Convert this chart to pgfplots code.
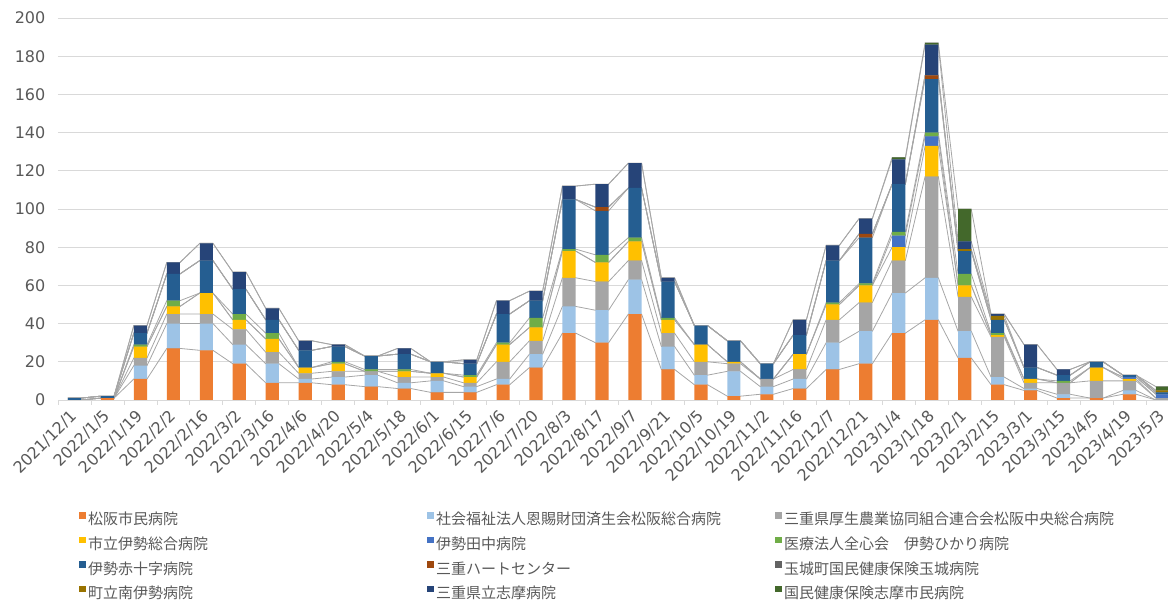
\documentclass[border=0pt]{standalone}
\usepackage{pgfplots}
\usepackage{pgfplotstable}
\pgfplotsset{compat=1.18}
\usepackage{fontspec}
\setmainfont{DejaVu Sans}
\newfontfamily\jp{Noto Sans CJK JP}
\definecolor{cA}{HTML}{ED7D31}
\definecolor{cB}{HTML}{9DC3E6}
\definecolor{cC}{HTML}{A5A5A5}
\definecolor{cD}{HTML}{FFC000}
\definecolor{cE}{HTML}{4472C4}
\definecolor{cF}{HTML}{70AD47}
\definecolor{cG}{HTML}{255E91}
\definecolor{cH}{HTML}{9E480E}
\definecolor{cI}{HTML}{636363}
\definecolor{cJ}{HTML}{997300}
\definecolor{cK}{HTML}{264478}
\definecolor{cL}{HTML}{43682B}
\definecolor{txt}{HTML}{595959}
\definecolor{gridc}{HTML}{D9D9D9}
\definecolor{sline}{HTML}{A6A6A6}

\pgfplotstableread{
x  s1 s2 s3 s4 s5 s6 s7 s8 s9 s10 s11 s12
0   0  0  0  0  0  0  1  0  0  0   0   0
1   1  0  0  0  0  0  1  0  0  0   0   0
2  11  7  4  6  0  1  6  0  0  0   4   0
3  27 13  5  4  0  3 14  0  0  0   6   0
4  26 14  5 11  0  0 17  0  0  0   9   0
5  19 10  8  5  0  3 13  0  0  0   9   0
6   9 10  6  7  0  3  7  0  0  0   6   0
7   9  2  3  3  0  0  9  0  0  0   5   0
8   8  4  3  4  0  1  8  0  0  0   1   0
9   7  6  2  0  0  1  7  0  0  0   0   0
10  6  3  3  3  0  1  8  0  0  0   3   0
11  4  6  2  2  0  0  6  0  0  0   0   0
12  4  3  2  3  0  1  6  0  0  0   2   0
13  8  3  9  9  0  1 15  0  0  0   7   0
14 17  7  7  7  0  5  9  0  0  0   5   0
15 35 14 15 14  0  1 26  0  0  0   7   0
16 30 17 15 10  0  4 23  2  0  0  12   0
17 45 18 10 10  0  2 26  0  0  0  13   0
18 16 12  7  7  0  1 19  0  0  0   2   0
19  8  5  7  9  0  0 10  0  0  0   0   0
20  2 13  4  1  0  0 11  0  0  0   0   0
21  3  4  4  0  0  0  8  0  0  0   0   0
22  6  5  5  8  0  0 10  0  0  0   8   0
23 16 14 12  8  0  1 22  0  0  0   8   0
24 19 17 15  9  0  1 24  2  0  0   8   0
25 35 21 17  7  6  2 25  0  0  0  13   1
26 42 22 53 16  5  2 28  2  0  0  16   1
27 22 14 18  6  0  6 12  0  0  1   4  17
28  8  4 21  1  0  1  7  0  0  2   1   0
29  5  1  3  2  0  0  6  0  0  0  12   0
30  1  2  6  0  0  1  3  0  0  0   3   0
31  1  0  9  7  0  0  3  0  0  0   0   0
32  3  2  5  1  1  0  1  0  0  0   0   0
33  0  0  1  0  2  0  1  0  0  1   0   2
}\data
\pgfplotstablevertcat{\dbl}{\data}
\pgfplotstablevertcat{\dbl}{\data}
\pgfplotstablesort[sort key=x]{\dblsorted}{\dbl}

\pgfplotsset{
  sq/.style={legend image code/.code={\fill[##1] (0pt,2.2pt) rectangle (6.5pt,8.7pt);}},
  sl/.style={sline, line width=0.8pt},
}

\begin{document}
\begin{tikzpicture}
\begin{axis}[
  at={(58pt,201pt)}, anchor=south west,
  width=1121pt, height=382pt, scale only axis,
  xmin=-0.5, xmax=33.5, ymin=0, ymax=200,
  ytick={0,20,...,200},
  ymajorgrids, grid style={draw=gridc, line width=0.8pt},
  xtick={0,...,33},
  xticklabels={2021/12/1,2022/1/5,2022/1/19,2022/2/2,2022/2/16,2022/3/2,2022/3/16,2022/4/6,2022/4/20,2022/5/4,2022/5/18,2022/6/1,2022/6/15,2022/7/6,2022/7/20,2022/8/3,2022/8/17,2022/9/7,2022/9/21,2022/10/5,2022/10/19,2022/11/2,2022/11/16,2022/12/7,2022/12/21,2023/1/4,2023/1/18,2023/2/1,2023/2/15,2023/3/1,2023/3/15,2023/4/5,2023/4/19,2023/5/3},
  minor xtick={-0.5,0.5,...,33.5},
  major tick length=0pt, minor tick length=5pt,
  tick align=outside, xtick pos=bottom, ytick pos=left,
  minor tick style={draw=gridc, line width=0.8pt},
  axis line style={draw=none},
  tick label style={font=\fontsize{16}{19}\selectfont, text=txt},
  /pgf/number format/assume math mode=true,
  yticklabel style={anchor=east, inner sep=0pt, xshift=-12.5pt},
  xticklabel style={rotate=45, anchor=east, inner sep=0pt},
  xticklabel shift=13pt,
  stack plots=y, no markers,
]
\addplot[sl] table[x expr={\thisrow{x}+0.4*mod(\coordindex,2)-0.2}, y=s1]{\dblsorted};
\addplot[sl] table[x expr={\thisrow{x}+0.4*mod(\coordindex,2)-0.2}, y=s2]{\dblsorted};
\addplot[sl] table[x expr={\thisrow{x}+0.4*mod(\coordindex,2)-0.2}, y=s3]{\dblsorted};
\addplot[sl] table[x expr={\thisrow{x}+0.4*mod(\coordindex,2)-0.2}, y=s4]{\dblsorted};
\addplot[sl] table[x expr={\thisrow{x}+0.4*mod(\coordindex,2)-0.2}, y=s5]{\dblsorted};
\addplot[sl] table[x expr={\thisrow{x}+0.4*mod(\coordindex,2)-0.2}, y=s6]{\dblsorted};
\addplot[sl] table[x expr={\thisrow{x}+0.4*mod(\coordindex,2)-0.2}, y=s7]{\dblsorted};
\addplot[sl] table[x expr={\thisrow{x}+0.4*mod(\coordindex,2)-0.2}, y=s8]{\dblsorted};
\addplot[sl] table[x expr={\thisrow{x}+0.4*mod(\coordindex,2)-0.2}, y=s9]{\dblsorted};
\addplot[sl] table[x expr={\thisrow{x}+0.4*mod(\coordindex,2)-0.2}, y=s10]{\dblsorted};
\addplot[sl] table[x expr={\thisrow{x}+0.4*mod(\coordindex,2)-0.2}, y=s11]{\dblsorted};
\addplot[sl] table[x expr={\thisrow{x}+0.4*mod(\coordindex,2)-0.2}, y=s12]{\dblsorted};
\end{axis}
\begin{axis}[
  at={(58pt,201pt)}, anchor=south west,
  width=1121pt, height=382pt, scale only axis,
  xmin=-0.5, xmax=33.5, ymin=0, ymax=200,
  hide axis,
  ybar stacked, bar width=0.4,
  legend columns=3,
  legend style={at={(axis description cs:0.0187,-0.293)}, anchor=north west,
    draw=none, fill=none, inner sep=0pt, row sep=8.9pt,
    font=\jp\fontsize{15}{18}\selectfont, text=txt,
    nodes={inner sep=0pt, text height=11pt, text depth=3pt},
    /tikz/every odd column/.style={column sep=2.5pt},
    /tikz/every even column/.style={column sep=0pt}},
  legend cell align=left,
]
\addplot[fill=cA, draw=none, sq] table[x=x, y=s1]{\data};
\addlegendentry{\makebox[339pt][l]{松阪市民病院}}
\addplot[fill=cB, draw=none, sq] table[x=x, y=s2]{\data};
\addlegendentry{\makebox[339pt][l]{社会福祉法人恩賜財団済生会松阪総合病院}}
\addplot[fill=cC, draw=none, sq] table[x=x, y=s3]{\data};
\addlegendentry{\makebox[339pt][l]{三重県厚生農業協同組合連合会松阪中央総合病院}}
\addplot[fill=cD, draw=none, sq] table[x=x, y=s4]{\data};
\addlegendentry{\makebox[339pt][l]{市立伊勢総合病院}}
\addplot[fill=cE, draw=none, sq] table[x=x, y=s5]{\data};
\addlegendentry{\makebox[339pt][l]{伊勢田中病院}}
\addplot[fill=cF, draw=none, sq] table[x=x, y=s6]{\data};
\addlegendentry{\makebox[339pt][l]{医療法人全心会　伊勢ひかり病院}}
\addplot[fill=cG, draw=none, sq] table[x=x, y=s7]{\data};
\addlegendentry{\makebox[339pt][l]{伊勢赤十字病院}}
\addplot[fill=cH, draw=none, sq] table[x=x, y=s8]{\data};
\addlegendentry{\makebox[339pt][l]{三重ハートセンター}}
\addplot[fill=cI, draw=none, sq] table[x=x, y=s9]{\data};
\addlegendentry{\makebox[339pt][l]{玉城町国民健康保険玉城病院}}
\addplot[fill=cJ, draw=none, sq] table[x=x, y=s10]{\data};
\addlegendentry{\makebox[339pt][l]{町立南伊勢病院}}
\addplot[fill=cK, draw=none, sq] table[x=x, y=s11]{\data};
\addlegendentry{\makebox[339pt][l]{三重県立志摩病院}}
\addplot[fill=cL, draw=none, sq] table[x=x, y=s12]{\data};
\addlegendentry{\makebox[339pt][l]{国民健康保険志摩市民病院}}
\end{axis}
\pgfresetboundingbox
\path[use as bounding box] (0pt,0pt) rectangle (1168pt,601pt);
\end{tikzpicture}
\end{document}
